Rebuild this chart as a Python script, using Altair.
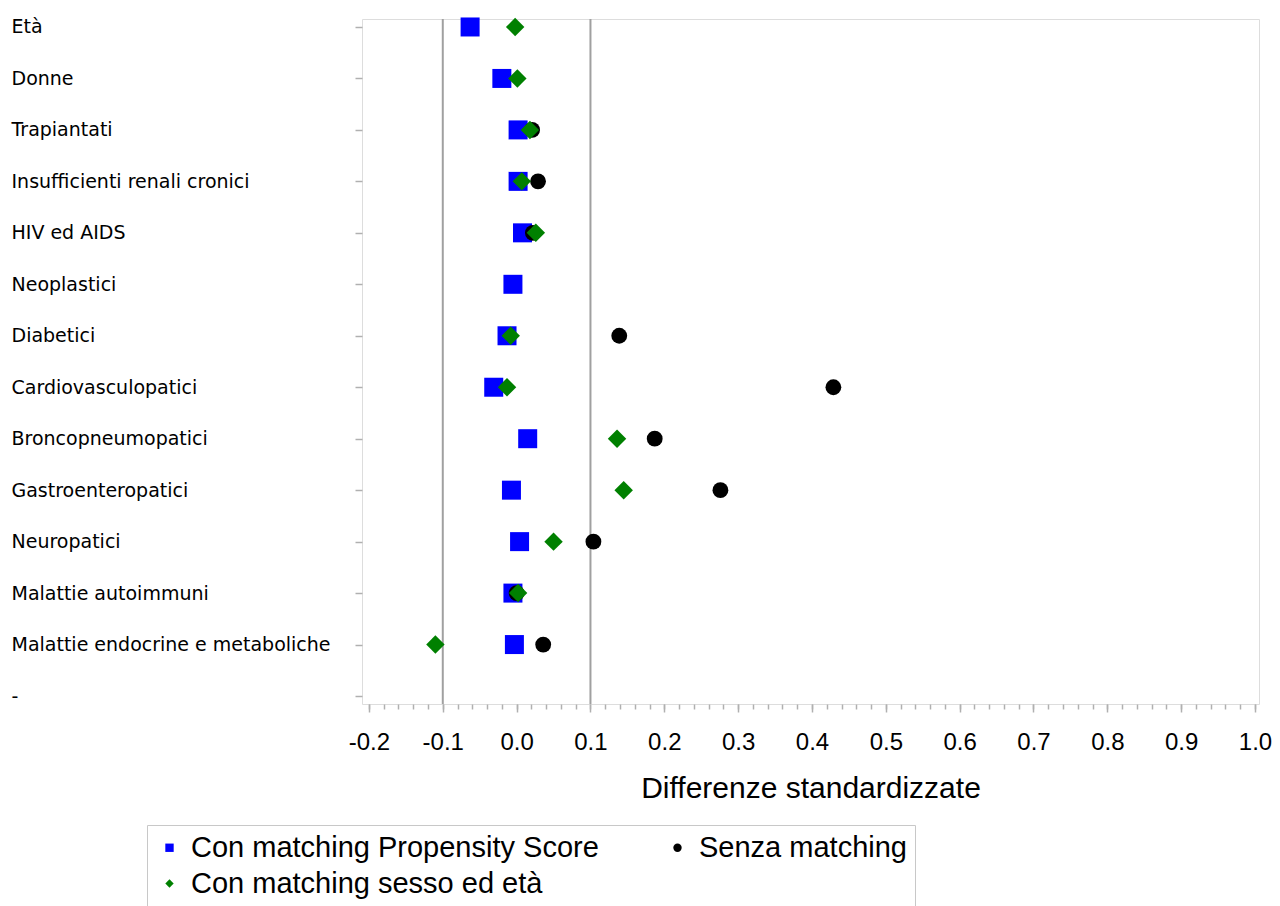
import altair as alt
import pandas as pd

categories = ["Età", "Donne", "Trapiantati", "Insufficienti renali cronici",
              "HIV ed AIDS", "Neoplastici", "Diabetici", "Cardiovasculopatici",
              "Broncopneumopatici", "Gastroenteropatici", "Neuropatici",
              "Malattie autoimmuni", "Malattie endocrine e metaboliche", "-"]

series_names = ["Con matching Propensity Score", "Senza matching", "Con matching sesso ed età"]
series_colors = ["#0000ff", "#000000", "#008000"]
series_shapes = ["square", "circle", "diamond"]
series_sizes = [361, 250, 340]

ps_values = [-0.063, -0.020, 0.002, 0.002, 0.008, -0.005, -0.013, -0.031,
             0.015, -0.007, 0.004, -0.005, -0.003, None]
senza_values = [None, None, 0.021, 0.029, 0.022, None, 0.139, 0.429,
                0.187, 0.276, 0.104, 0.000, 0.036, None]
sesso_values = [-0.002, 0.001, 0.018, 0.007, 0.026, None, -0.008, -0.013,
                0.136, 0.145, 0.050, 0.002, -0.110, None]

ref_lines = [-0.1, 0.1]
major_ticks = [-0.2, -0.1, 0.0, 0.1, 0.2, 0.3, 0.4, 0.5, 0.6, 0.7, 0.8, 0.9, 1.0]
minor_ticks = [round(-0.2 + 0.02 * i, 2) for i in range(61)]

GRAY = "#b0b0b0"
xscale = alt.Scale(domain=[-0.2094, 1.0054], nice=False, zero=False)
yscale = alt.Scale(type="point", domain=categories, padding=0.155)
cscale = alt.Scale(domain=series_names, range=series_colors)
sscale = alt.Scale(domain=series_names, range=series_shapes)

x_axis = alt.Axis(values=major_ticks, tickSize=8, tickColor=GRAY, tickWidth=1.5,
                  domain=False, grid=False,
                  labelExpr="replace(format(datum.value, '.1f'), '\u2212', '-')",
                  labelFont="Liberation Sans", labelFontSize=24, labelColor="#000000",
                  labelPadding=18, labelFlush=False,
                  title="Differenze standardizzate", titleFont="Liberation Sans",
                  titleFontSize=30, titleFontWeight="normal", titleColor="#000000",
                  titlePadding=19, orient="bottom")
y_axis = alt.Axis(tickSize=7, tickColor=GRAY, tickWidth=1.5, domain=False, grid=False,
                  labelAlign="left", labelBaseline="middle", labelPadding=344,
                  labelLimit=500, labelFont="DejaVu Sans", labelFontSize=19,
                  labelColor="#000000", title=None)
legend = alt.Legend(title=None, orient="none", legendX=-215, legendY=806,
                    direction="horizontal", columns=2, columnPadding=64, rowPadding=6,
                    padding=8, strokeColor="#c8c8c8",
                    labelFont="Liberation Sans", labelFontSize=29,
                    labelColor="#000000", labelLimit=600,
                    labelOffset=7, symbolSize=70, symbolStrokeWidth=0)

layers = []
ref_df = pd.DataFrame({"ref": ref_lines})
rules = alt.Chart(ref_df).mark_rule(color="#a0a0a0", strokeWidth=2).encode(
    x=alt.X("ref:Q", scale=xscale,
            axis=alt.Axis(values=minor_ticks, tickSize=5, tickColor=GRAY, tickWidth=1.5,
                          labels=False, domain=False, grid=False, title=None,
                          orient="bottom")),
)
layers.append(rules)

for i, (name, vals, size) in enumerate(zip(series_names,
                                           [ps_values, senza_values, sesso_values],
                                           series_sizes)):
    sub = pd.DataFrame([{"cat": c, "serie": name, "val": v}
                        for c, v in zip(categories, vals) if v is not None])
    enc = dict(
        x=alt.X("val:Q", scale=xscale, axis=x_axis if i == 0 else None),
        y=alt.Y("cat:N", sort=categories, scale=yscale, axis=y_axis),
        color=alt.Color("serie:N", sort=series_names, scale=cscale, legend=legend),
        shape=alt.Shape("serie:N", sort=series_names, scale=sscale, legend=legend),
    )
    layers.append(alt.Chart(sub).mark_point(filled=True, strokeWidth=0, opacity=1,
                                            size=size).encode(**enc))

chart = alt.layer(*layers).resolve_axis(x="independent").properties(
    width=897, height=685,
    autosize=alt.AutoSizeParams(type="none"),
    padding={"left": 354, "top": 11, "right": 13, "bottom": 202},
).configure_view(stroke=GRAY, strokeWidth=1.5).configure(background="white")

chart.save("out.html", embed_options={"renderer": "svg", "actions": False})
